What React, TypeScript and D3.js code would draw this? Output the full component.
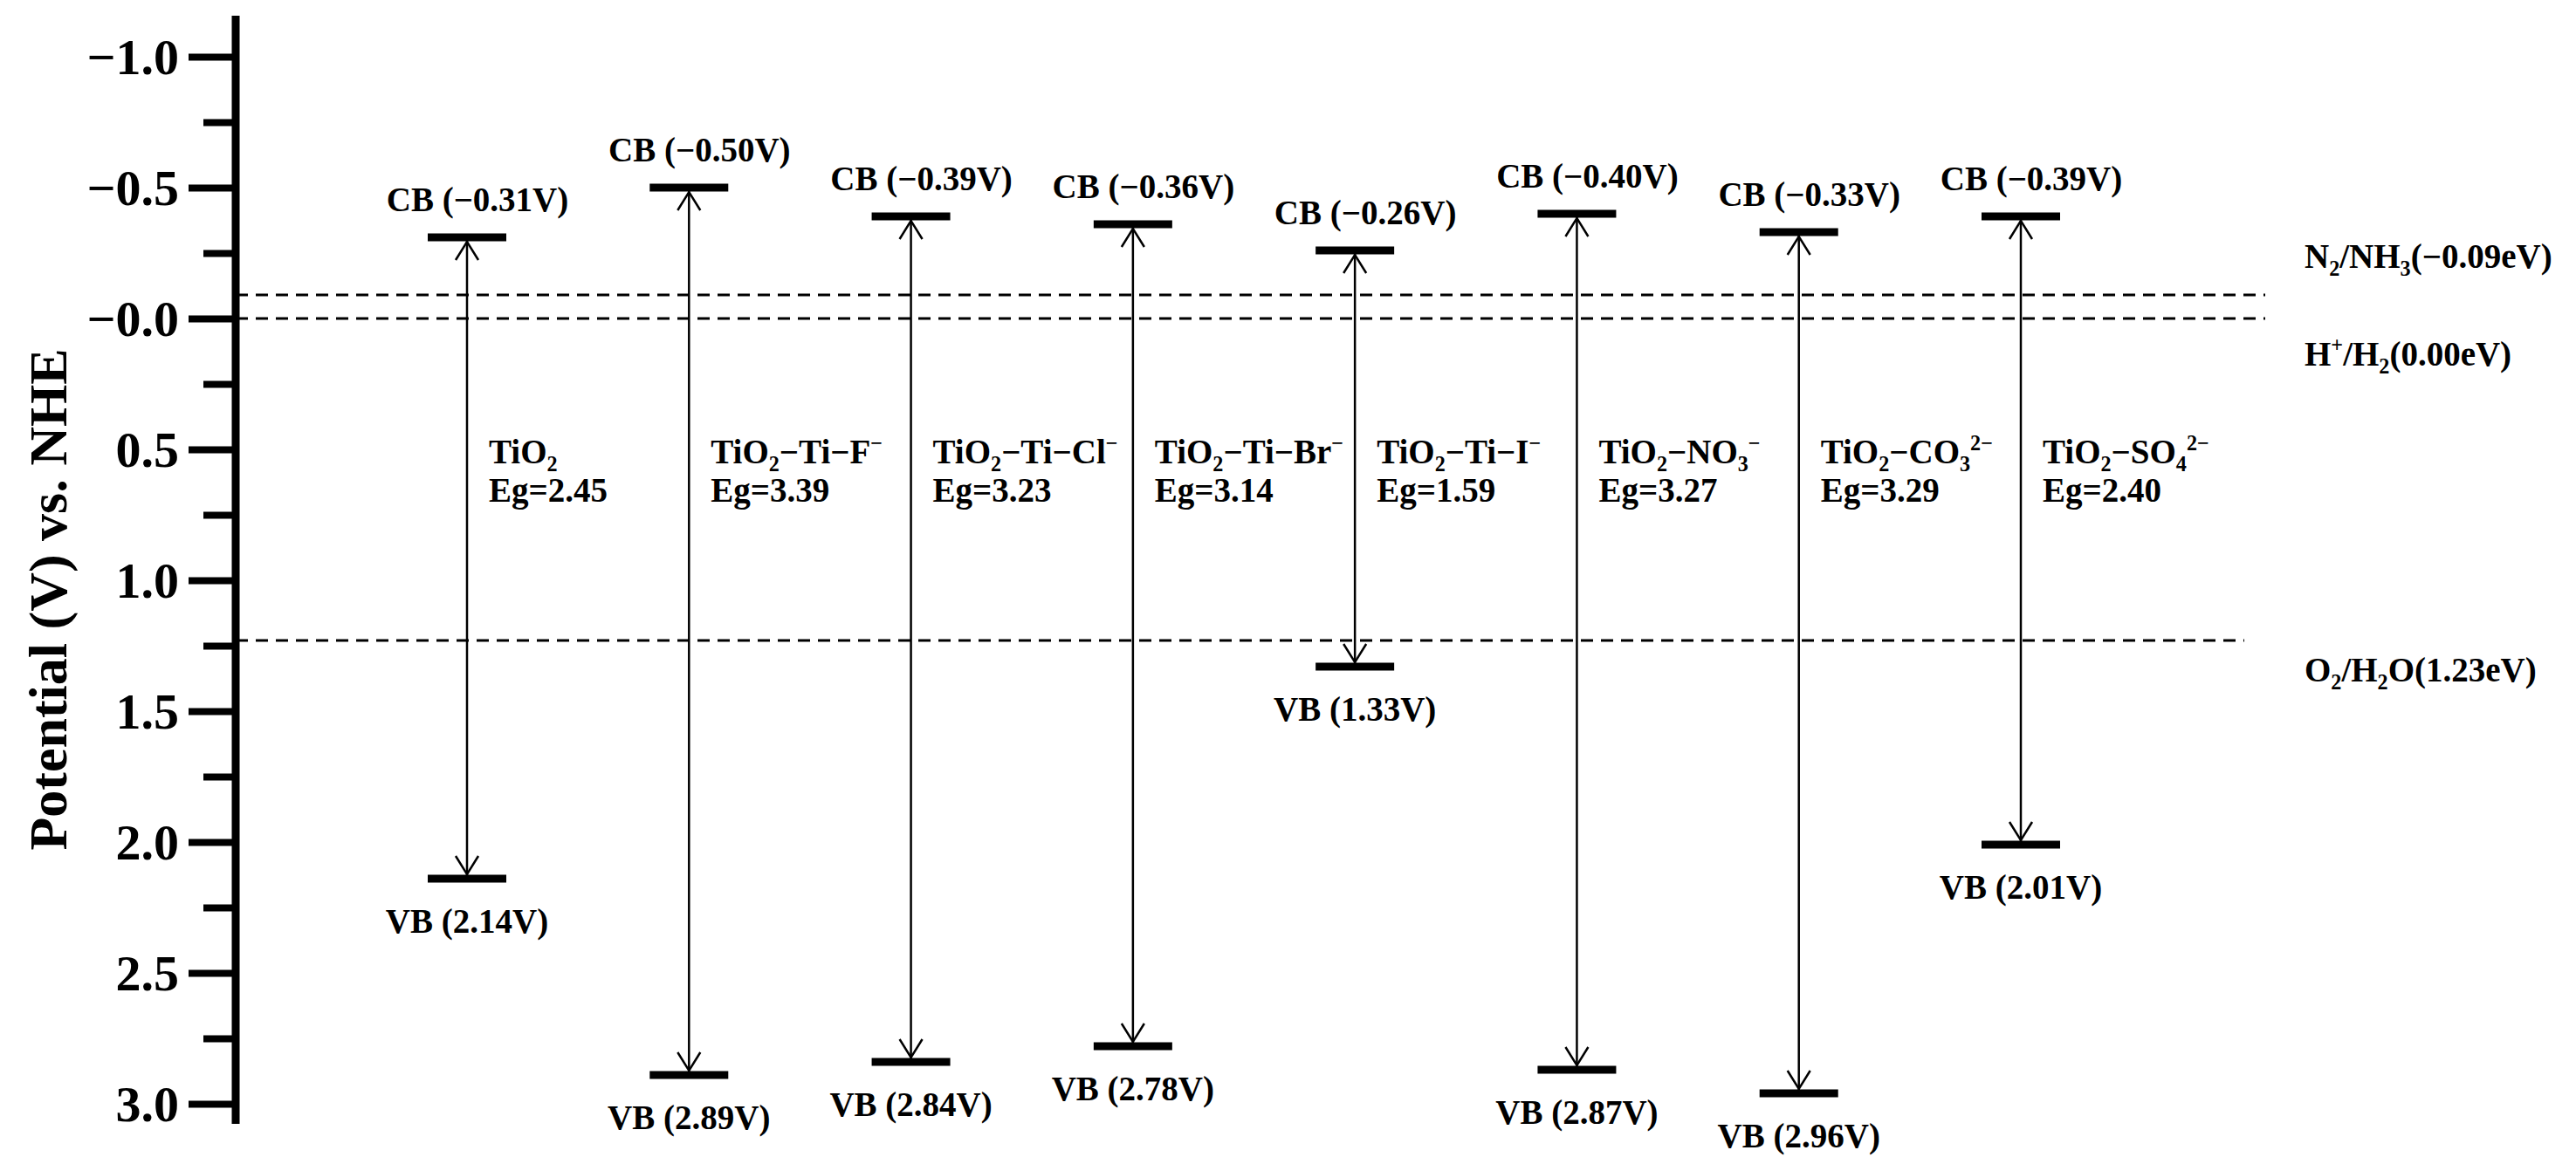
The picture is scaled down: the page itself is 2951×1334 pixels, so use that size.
import React, { useEffect, useRef } from 'react';
import * as d3 from 'd3';

// band edges
const materials = [
  'TiO_{2}',
  'TiO_{2}−Ti−F^{−}',
  'TiO_{2}−Ti−Cl^{−}',
  'TiO_{2}−Ti−Br^{−}',
  'TiO_{2}−Ti−I^{−}',
  'TiO_{2}−NO_{3}^{−}',
  'TiO_{2}−CO_{3}^{2−}',
  'TiO_{2}−SO_{4}^{2−}',
];
const cbValues = [-0.31, -0.5, -0.39, -0.36, -0.26, -0.4, -0.33, -0.39];
const vbValues = [2.14, 2.89, 2.84, 2.78, 1.33, 2.87, 2.96, 2.01];

// redox reference potentials
const refLabels = ['N_{2}/NH_{3}(−0.09eV)', 'H^{+}/H_{2}(0.00eV)', 'O_{2}/H_{2}O(1.23eV)'];
const refPotentials = [-0.09, 0.0, 1.23];

const majorTicks = [-1, -0.5, 0, 0.5, 1, 1.5, 2, 2.5, 3];
const tickLabels = ['−1.0', '−0.5', '−0.0', '0.5', '1.0', '1.5', '2.0', '2.5', '3.0'];
const minorTicks = [-0.75, -0.25, 0.25, 0.75, 1.25, 1.75, 2.25, 2.75];

const FONT = '"Liberation Serif", "Times New Roman", serif';

// write "TiO_{2}−NO_{3}^{−}" style strings into a <text> with sub/superscripts
function richText(sel, str, fs) {
  const parts = str.split(/(_\{[^}]*\}|\^\{[^}]*\})/).filter((p) => p !== '');
  let cur = 0;
  parts.forEach((p) => {
    let target = 0;
    let txt = p;
    let size = fs;
    if (p.startsWith('_{')) {
      target = fs * 0.22;
      txt = p.slice(2, -1);
      size = fs * 0.62;
    } else if (p.startsWith('^{')) {
      target = -fs * 0.38;
      txt = p.slice(2, -1);
      size = fs * 0.62;
    }
    sel.append('tspan').attr('dy', target - cur).attr('font-size', size).text(txt);
    cur = target;
  });
}

const App = () => {
  const svgRef = useRef(null);

  useEffect(() => {
    const width = 2951;
    const height = 1334;
    const axisX = 270;

    const svg = d3.select(svgRef.current);
    svg.selectAll('*').remove();
    svg.attr('width', width).attr('height', height);

    const y = d3.scaleLinear().domain([-1, 3]).range([65, 1265]);
    const x = d3.scalePoint().domain(materials).range([535, 2315]);

    const g = svg.append('g').attr('font-family', FONT).attr('font-weight', 'bold').attr('fill', '#000');

    // reference dashed lines
    const refEnd = [2595, 2595, 2571];
    const refLabelDy = [-31, 54, 47];
    refPotentials.forEach((v, i) => {
      g.append('line')
        .attr('x1', axisX)
        .attr('x2', refEnd[i])
        .attr('y1', y(v))
        .attr('y2', y(v))
        .attr('stroke', '#000')
        .attr('stroke-width', 3)
        .attr('stroke-dasharray', '14,9');
      const t = g.append('text').attr('x', 2640).attr('y', y(v) + refLabelDy[i]);
      richText(t, refLabels[i], 39);
    });

    // y axis
    const major = d3.axisLeft(y).tickValues(majorTicks).tickSize(54).tickSizeOuter(0).tickPadding(11)
      .tickFormat((d, i) => tickLabels[i]);
    const minor = d3.axisLeft(y).tickValues(minorTicks).tickSize(37).tickSizeOuter(0).tickFormat(() => '');

    const ax1 = g.append('g').attr('transform', `translate(${axisX},0)`).call(major);
    const ax2 = g.append('g').attr('transform', `translate(${axisX},0)`).call(minor);
    [ax1, ax2].forEach((a) => {
      a.select('.domain').remove();
      a.selectAll('line').attr('stroke', '#000').attr('stroke-width', 8);
    });
    ax1.selectAll('text')
      .attr('font-family', FONT)
      .attr('font-weight', 'bold')
      .attr('font-size', 58)
      .attr('fill', '#000')
      .attr('dy', '0.33em');
    ax1.attr('font-size', null).attr('font-family', null);
    ax2.attr('font-size', null).attr('font-family', null);

    g.append('line')
      .attr('x1', axisX)
      .attr('x2', axisX)
      .attr('y1', 18)
      .attr('y2', 1288)
      .attr('stroke', '#000')
      .attr('stroke-width', 9);

    g.append('text')
      .attr('transform', `translate(76,687) rotate(-90)`)
      .attr('text-anchor', 'middle')
      .attr('font-size', 62)
      .text('Potential (V) vs. NHE');

    // band diagrams
    const barHalf = 45;
    materials.forEach((m, i) => {
      const cx = x(m);
      const yc = y(cbValues[i]);
      const yv = y(vbValues[i]);

      [yc, yv].forEach((yy) => {
        g.append('line')
          .attr('x1', cx - barHalf)
          .attr('x2', cx + barHalf)
          .attr('y1', yy)
          .attr('y2', yy)
          .attr('stroke', '#000')
          .attr('stroke-width', 9);
      });

      g.append('line')
        .attr('x1', cx)
        .attr('x2', cx)
        .attr('y1', yc + 4)
        .attr('y2', yv - 4)
        .attr('stroke', '#000')
        .attr('stroke-width', 2.5);

      const head = d3.line();
      g.append('path')
        .attr('d', head([[cx - 13, yc + 26], [cx, yc + 5], [cx + 13, yc + 26]]))
        .attr('fill', 'none')
        .attr('stroke', '#000')
        .attr('stroke-width', 2.5);
      g.append('path')
        .attr('d', head([[cx - 13, yv - 26], [cx, yv - 5], [cx + 13, yv - 26]]))
        .attr('fill', 'none')
        .attr('stroke', '#000')
        .attr('stroke-width', 2.5);

      g.append('text')
        .attr('x', cx + 12)
        .attr('y', yc - 30)
        .attr('text-anchor', 'middle')
        .attr('font-size', 39)
        .text(`CB (${cbValues[i].toFixed(2).replace('-', '−')}V)`);

      g.append('text')
        .attr('x', cx)
        .attr('y', yv + 62)
        .attr('text-anchor', 'middle')
        .attr('font-size', 39)
        .text(`VB (${vbValues[i].toFixed(2)}V)`);

      const name = g.append('text').attr('x', cx + 25).attr('y', 531);
      richText(name, m, 39);

      g.append('text')
        .attr('x', cx + 25)
        .attr('y', 575)
        .attr('font-size', 39)
        .text(`Eg=${(vbValues[i] - cbValues[i]).toFixed(2)}`);
    });

    return () => {
      svg.selectAll('*').remove();
    };
  }, []);

  return (
    <svg
      ref={svgRef}
      style={{ position: 'absolute', left: 0, top: 0, display: 'block', background: '#fff' }}
    />
  );
};

export default App;
